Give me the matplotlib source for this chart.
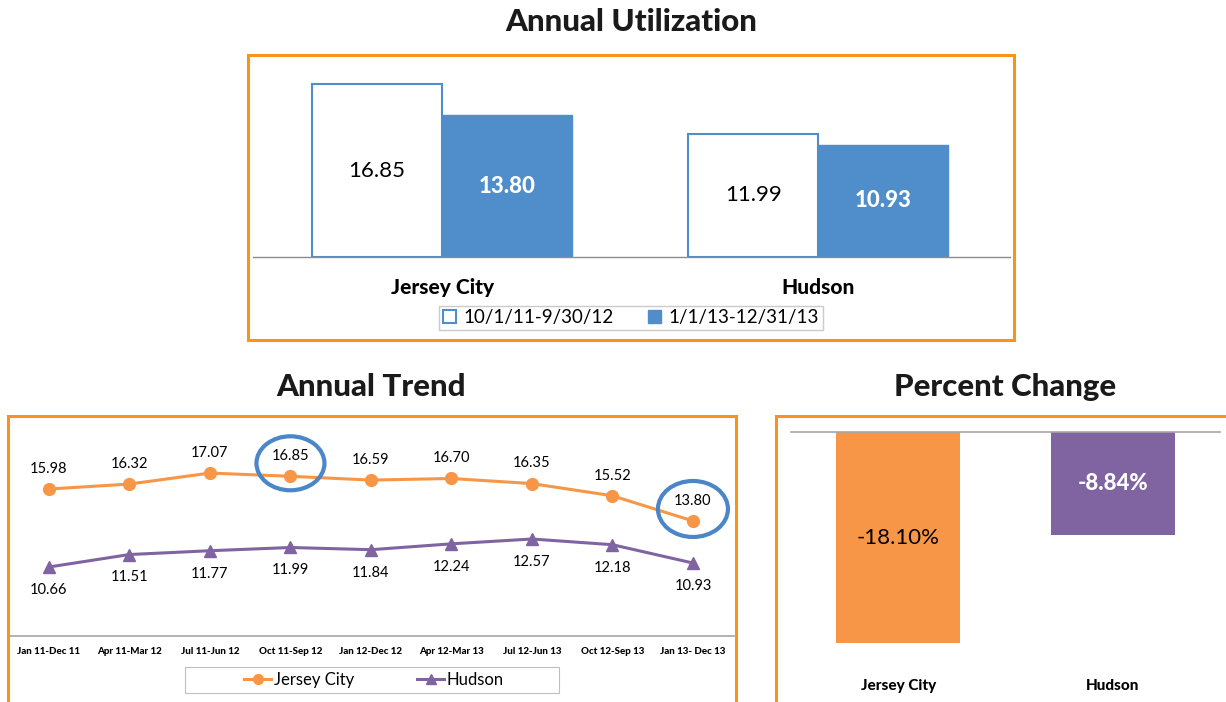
import matplotlib
matplotlib.use("Agg")
import matplotlib.pyplot as plt
from matplotlib.patches import Rectangle, Ellipse, Patch
from matplotlib.lines import Line2D
from matplotlib.transforms import ScaledTranslation


# Data

sites = ["Jersey City", "Hudson"]
period_labels = ["10/1/11-9/30/12", "1/1/13-12/31/13"]
util_prev = [16.85, 11.99]
util_curr = [13.80, 10.93]

trend_periods = [
    "Jan 11-Dec 11", "Apr 11-Mar 12", "Jul 11-Jun 12", "Oct 11-Sep 12",
    "Jan 12-Dec 12", "Apr 12-Mar 13", "Jul 12-Jun 13", "Oct 12-Sep 13",
    "Jan 13- Dec 13"
]
trend_jersey = [15.98, 16.32, 17.07, 16.85, 16.59, 16.70, 16.35, 15.52, 13.80]
trend_hudson = [10.66, 11.51, 11.77, 11.99, 11.84, 12.24, 12.57, 12.18, 10.93]
highlight_idx = [3, 8]

pct_change = [-18.10, -8.84]


# Style

FONT = "Lato"
ORANGE = "#F79646"
FRAME = "#F7941E"
PURPLE = "#8064A2"
BLUE = "#4F8DCB"
RING = "#4A86C8"
GREY = "#A6A6A6"

W, H = 1226, 702

plt.rcParams["font.family"] = [FONT, "DejaVu Sans"]

fig = plt.figure(figsize=(W / 100, H / 100), dpi=100)


def px_axes(x0, y0, x1, y1):
    return fig.add_axes([x0 / W, 1 - y1 / H, (x1 - x0) / W, (y1 - y0) / H])


def px_box(x0, y0, x1, y1, color, lw):
    fig.add_artist(Rectangle(
        (x0 / W, 1 - y1 / H), (x1 - x0) / W, (y1 - y0) / H,
        transform=fig.transFigure, fill=False, edgecolor=color,
        linewidth=lw, clip_on=False
    ))


def frame(x0, y0, x1, y1):
    px_box(x0, y0, x1, y1, FRAME, 2.2)


def clean(ax):
    for s in ax.spines.values():
        s.set_visible(False)
    ax.set_yticks([])
    ax.tick_params(axis="x", length=0)


def title(x, y, s):
    fig.text(x / W, 1 - y / H, s, ha="center", va="center",
             fontsize=22.5, fontweight="black", color="#1a1a1a")


# Annual Utilization

title(631, 22, "Annual Utilization")
frame(248, 55, 1014, 340)

ax1 = px_axes(253, 60, 1010, 257)
clean(ax1)
ax1.spines["bottom"].set_visible(True)
ax1.spines["bottom"].set_color("#8C8C8C")
ax1.spines["bottom"].set_linewidth(1.0)

bw = 0.3457
xs = list(range(len(sites)))
ax1.bar([x - bw / 2 for x in xs], util_prev, width=bw, color="white",
        edgecolor=BLUE, linewidth=1.5, zorder=2)
ax1.bar([x + bw / 2 for x in xs], util_curr, width=bw, color=BLUE,
        edgecolor=BLUE, linewidth=1.0, zorder=2)

for x, v in zip(xs, util_prev):
    ax1.text(x - bw / 2, v / 2, f"{v:.2f}", ha="center", va="center",
             fontsize=16, color="black")
for x, v in zip(xs, util_curr):
    ax1.text(x + bw / 2, v / 2, f"{v:.2f}", ha="center", va="center",
             fontsize=16, fontweight="black", color="white")

ax1.set_xlim(-0.503, 1.51)
ax1.set_ylim(0, 19.2)
ax1.set_xticks(xs)
ax1.set_xticklabels(sites, fontsize=15, fontweight="black")
ax1.tick_params(axis="x", pad=15)

handles1 = [
    Patch(facecolor="white", edgecolor=BLUE, linewidth=1.5),
    Patch(facecolor=BLUE, edgecolor=BLUE),
]
fig.legend(handles1, period_labels, loc="center",
           bbox_to_anchor=(631 / W, 1 - 318 / H), ncol=2, fontsize=13.5,
           frameon=True, fancybox=False, edgecolor="#BFBFBF",
           handlelength=0.7, handleheight=0.7, handletextpad=0.4,
           columnspacing=1.8, borderpad=0.2, borderaxespad=0)


# Annual Trend

title(371, 387, "Annual Trend")
frame(8, 416, 736, 720)

ax2 = px_axes(10, 425, 734, 636)
clean(ax2)
ax2.spines["bottom"].set_visible(True)
ax2.spines["bottom"].set_color(GREY)
ax2.spines["bottom"].set_linewidth(1.2)

tx = list(range(len(trend_periods)))
ax2.plot(tx, trend_jersey, color=ORANGE, linewidth=2.2, marker="o",
         markersize=8.5, label="Jersey City", zorder=3)
ax2.plot(tx, trend_hudson, color=PURPLE, linewidth=2.2, marker="^",
         markersize=9, label="Hudson", zorder=3)

for x, v in zip(tx, trend_jersey):
    ax2.annotate(f"{v:.2f}", (x, v), xytext=(0, 14.5),
                 textcoords="offset points", ha="center", va="center",
                 fontsize=10.5)
for x, v in zip(tx, trend_hudson):
    ax2.annotate(f"{v:.2f}", (x, v), xytext=(0, -16.5),
                 textcoords="offset points", ha="center", va="center",
                 fontsize=10.5)

# blue rings around the two periods used above
for i, (dy, ew, eh) in zip(highlight_idx, [(0.13, 0.68, 0.54), (0.12, 0.70, 0.56)]):
    offset = fig.dpi_scale_trans + ScaledTranslation(
        tx[i], trend_jersey[i], ax2.transData)
    ax2.add_patch(Ellipse((0, dy), ew, eh, transform=offset, fill=False,
                          edgecolor=RING, linewidth=3, zorder=4,
                          clip_on=False))

ax2.set_xlim(-0.484, 8.51)
ax2.set_ylim(5.95, 20.35)
ax2.set_xticks(tx)
ax2.set_xticklabels(trend_periods, fontsize=7, fontweight="black")
ax2.tick_params(axis="x", pad=8)

handles2 = [
    Line2D([], [], color=ORANGE, linewidth=2.2, marker="o", markersize=7),
    Line2D([], [], color=PURPLE, linewidth=2.2, marker="^", markersize=7),
]
fig.legend(handles2, ["Jersey City", "Hudson"], loc="center",
           bbox_to_anchor=(374 / W, 1 - 680 / H), ncol=2, fontsize=12,
           frameon=False, handlelength=1.6, handletextpad=0.15,
           columnspacing=3.8, borderpad=0, borderaxespad=0)
px_box(185, 667, 559, 693, "#BFBFBF", 0.8)


# Percent Change

title(1005, 387, "Percent Change")
frame(776, 416, 1240, 720)

ax3 = px_axes(791, 432, 1220, 660)
clean(ax3)
ax3.spines["top"].set_visible(True)
ax3.spines["top"].set_color(GREY)
ax3.spines["top"].set_linewidth(1.2)

px = list(range(len(sites)))
ax3.bar(px, pct_change, width=0.578, color=[ORANGE, PURPLE], zorder=2)
ax3.text(px[0], pct_change[0] / 2, f"{pct_change[0]:.2f}%", ha="center",
         va="center", fontsize=16, color="black")
ax3.text(px[1], pct_change[1] / 2, f"{pct_change[1]:.2f}%", ha="center",
         va="center", fontsize=16, fontweight="black", color="white")

ax3.set_xlim(-0.5, 1.5)
ax3.set_ylim(-19.55, 0)
ax3.set_xticks(px)
ax3.set_xticklabels(sites, fontsize=11, fontweight="black")
ax3.tick_params(axis="x", pad=14)

fig.savefig("out.png", dpi=100)
